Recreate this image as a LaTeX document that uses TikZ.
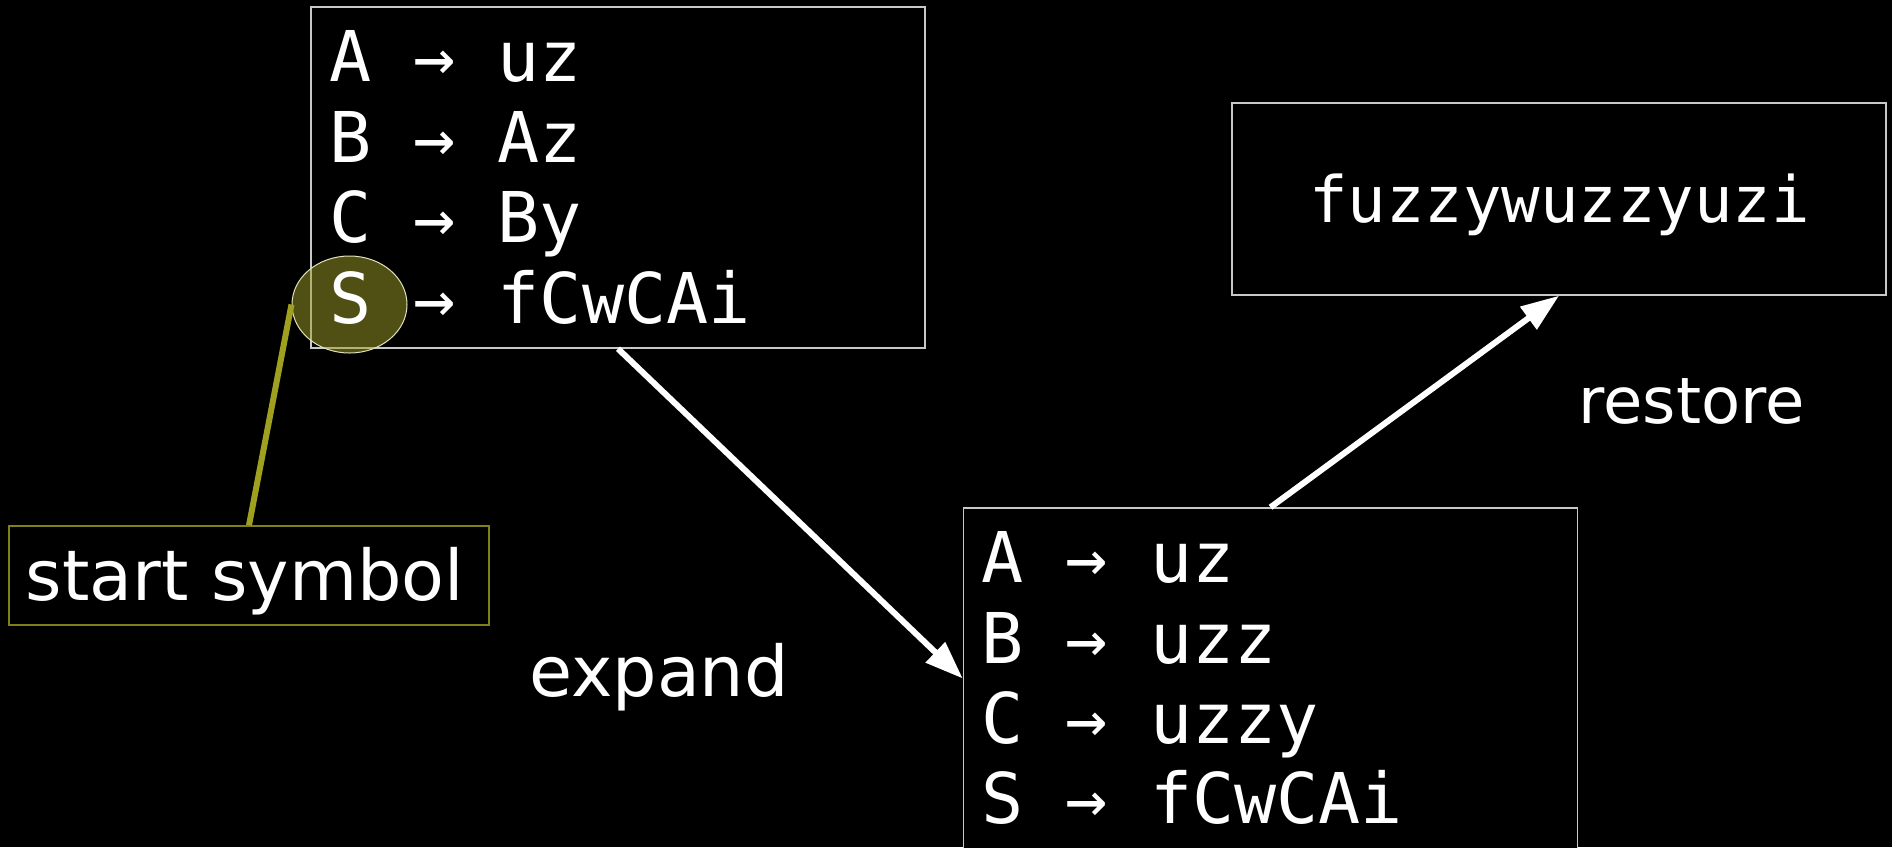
\documentclass[tikz,border=0pt]{standalone}
\usepackage{fontspec}
\setmainfont{DejaVu Sans}
\newfontfamily\monof{DejaVu Sans Mono}
\usetikzlibrary{arrows.meta,shapes.geometric}
\definecolor{boxgray}{RGB}{200,200,200}
\definecolor{olivefill}{RGB}{160,160,40}
\definecolor{oliveline}{RGB}{160,160,32}
\definecolor{olivebox}{RGB}{128,128,24}
\definecolor{ellborder}{RGB}{225,225,190}
\tikzset{
  panel/.style={draw=boxgray, line width=1.5pt, fill=black, inner sep=0pt, shape=rectangle},
  rule/.style={text=white, inner sep=0pt, anchor=base west, font=\monof\fontsize{70}{80}\selectfont},
  result/.style={text=white, inner sep=0pt, anchor=base, font=\monof\fontsize{64}{74}\selectfont},
  label/.style={text=white, inner sep=0pt, anchor=base, font=\fontsize{70}{80}\selectfont},
  smalllabel/.style={text=white, inner sep=0pt, anchor=base, font=\fontsize{64}{74}\selectfont},
  bigarrow/.style={draw=white, line width=6pt, -{Triangle[length=38pt, width=27pt]}},
  startmark/.style={ellipse, draw=ellborder, line width=1pt, fill=olivefill, fill opacity=0.5, inner sep=0pt},
  oliveconn/.style={draw=oliveline, line width=6pt},
  ssbox/.style={draw=olivebox, line width=1.5pt, inner sep=0pt, shape=rectangle}
}
\begin{document}
\begin{tikzpicture}[x=1pt,y=-1pt]
\fill[black] (0,0) rectangle (1892,847);
\useasboundingbox (0,0) rectangle (1892,847);
\clip (0,0) rectangle (1892,847);
% boxes
\node[panel, minimum width=614pt, minimum height=341pt] (top) at (618,177.5) {};
\node[panel, minimum width=614pt, minimum height=341pt] (bot) at (1270.5,678.5) {};
\node[panel, minimum width=654pt, minimum height=192pt] (res) at (1559,199) {};
\node[ssbox, minimum width=480pt, minimum height=99pt] (ss) at (249,575.5) {};
% start symbol highlight
\node[startmark, minimum width=115pt, minimum height=97pt] (sel) at (349.5,304.5) {};
% rules top
\node[rule] (tA) at (329,81) {A → uz};
\node[rule] (tB) at (329,162) {B → Az};
\node[rule] (tC) at (329,242) {C → By};
\node[rule] (tS) at (329,323) {S → fCwCAi};
% rules bottom
\node[rule] (bA) at (981.5,582) {A → uz};
\node[rule] (bB) at (981.5,663) {B → uzz};
\node[rule] (bC) at (981.5,743) {C → uzzy};
\node[rule] (bS) at (981.5,823) {S → fCwCAi};
% result
\node[result] (rtext) at (1559.5,222) {fuzzywuzzyuzi};
% labels
\node[label] (sstext) at (245,600) {start symbol};
\node[label] (expand) at (659,696) {expand};
\node[smalllabel] (restore) at (1691.5,423) {restore};
% connectors
\draw[oliveconn] (ss.north) -- (sel.west);
\draw[bigarrow] (top.south) -- (bot.west);
\draw[bigarrow] (bot.north) -- (res.south);
\end{tikzpicture}
\end{document}
